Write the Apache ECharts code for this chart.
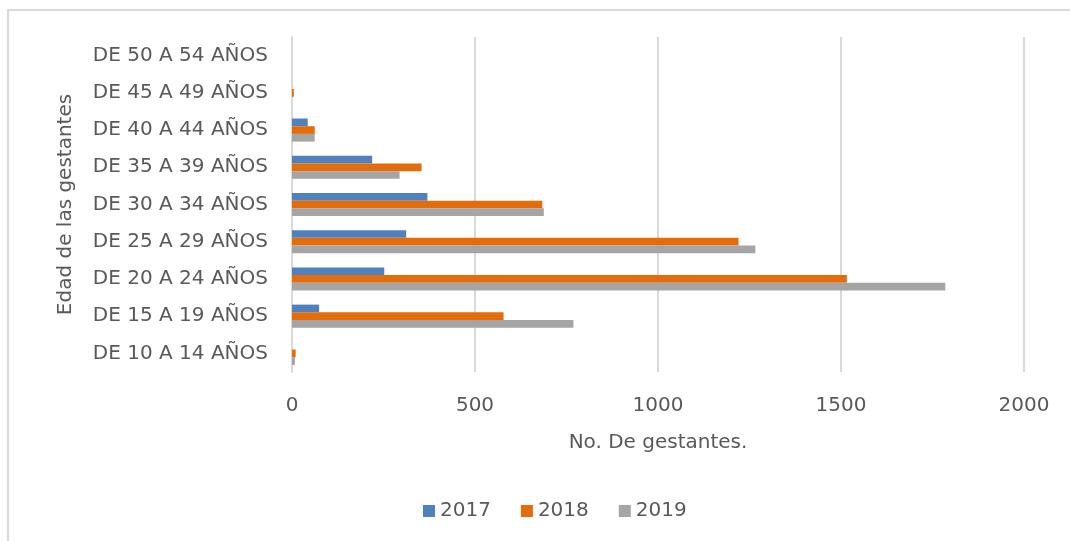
<!DOCTYPE html>
<html>
<head>
<meta charset="utf-8">
<script src="https://cdn.jsdelivr.net/npm/echarts@6/dist/echarts.min.js"></script>
<style>
  html, body { margin: 0; padding: 0; background: #fff; }
  #frame {
    position: absolute; left: 7px; top: 9px; width: 1070px; height: 540px;
    border-left: 2px solid #d9d9d9; border-top: 2px solid #d9d9d9;
  }
  #chart { position: absolute; left: 0; top: 0; width: 1070px; height: 541px; }
</style>
</head>
<body>
<div id="frame"></div>
<div id="chart"></div>
<script>
// categories, bottom to top
const ageGroups = [
  'DE 10 A 14 AÑOS', 'DE 15 A 19 AÑOS', 'DE 20 A 24 AÑOS',
  'DE 25 A 29 AÑOS', 'DE 30 A 34 AÑOS', 'DE 35 A 39 AÑOS',
  'DE 40 A 44 AÑOS', 'DE 45 A 49 AÑOS', 'DE 50 A 54 AÑOS'
]
const data2017 = [0, 74, 252, 312, 370, 219, 43, 0, 0]
const data2018 = [10, 578, 1516, 1220, 684, 354, 62, 5, 0]
const data2019 = [8, 769, 1785, 1266, 688, 294, 62, 0, 0]
const years = ['2017', '2018', '2019']

const chart = echarts.init(document.getElementById('chart'))
const font = 'DejaVu Sans'
const txt = '#595959'

chart.setOption({
  animation: false,
  textStyle: { fontFamily: font },
  grid: { left: 292, right: 46, top: 37, bottom: 169 },
  legend: {
    data: years,
    bottom: 15,
    left: 418,
    itemWidth: 12,
    itemHeight: 12,
    itemGap: 30,
    icon: 'rect',
    textStyle: { fontSize: 20, color: txt, fontFamily: font }
  },
  xAxis: {
    type: 'value',
    min: 0,
    max: 2000,
    interval: 500,
    name: 'No. De gestantes.',
    nameLocation: 'middle',
    nameGap: 61,
    nameTextStyle: { fontSize: 20, color: txt },
    axisLabel: { fontSize: 20, color: txt, margin: 24, formatter: v => String(v) },
    axisLine: { show: false },
    axisTick: { show: false },
    splitLine: { lineStyle: { color: '#d9d9d9', width: 2 } }
  },
  yAxis: {
    type: 'category',
    data: ageGroups,
    name: 'Edad de las gestantes',
    nameLocation: 'middle',
    nameRotate: 90,
    nameGap: 216,
    nameTextStyle: { fontSize: 20, color: txt },
    axisLabel: { fontSize: 20, color: txt, margin: 24 },
    axisLine: { lineStyle: { color: '#d9d9d9', width: 2 } },
    axisTick: { show: false }
  },
  series: [
    { name: '2017', type: 'bar', data: data2017, itemStyle: { color: '#4f81bd' }, barWidth: 7.7, barGap: '0%' },
    { name: '2018', type: 'bar', data: data2018, itemStyle: { color: '#e46c0a' }, barWidth: 7.7, barGap: '0%' },
    { name: '2019', type: 'bar', data: data2019, itemStyle: { color: '#a5a5a5' }, barWidth: 7.7, barGap: '0%' }
  ]
})
</script>
</body>
</html>
